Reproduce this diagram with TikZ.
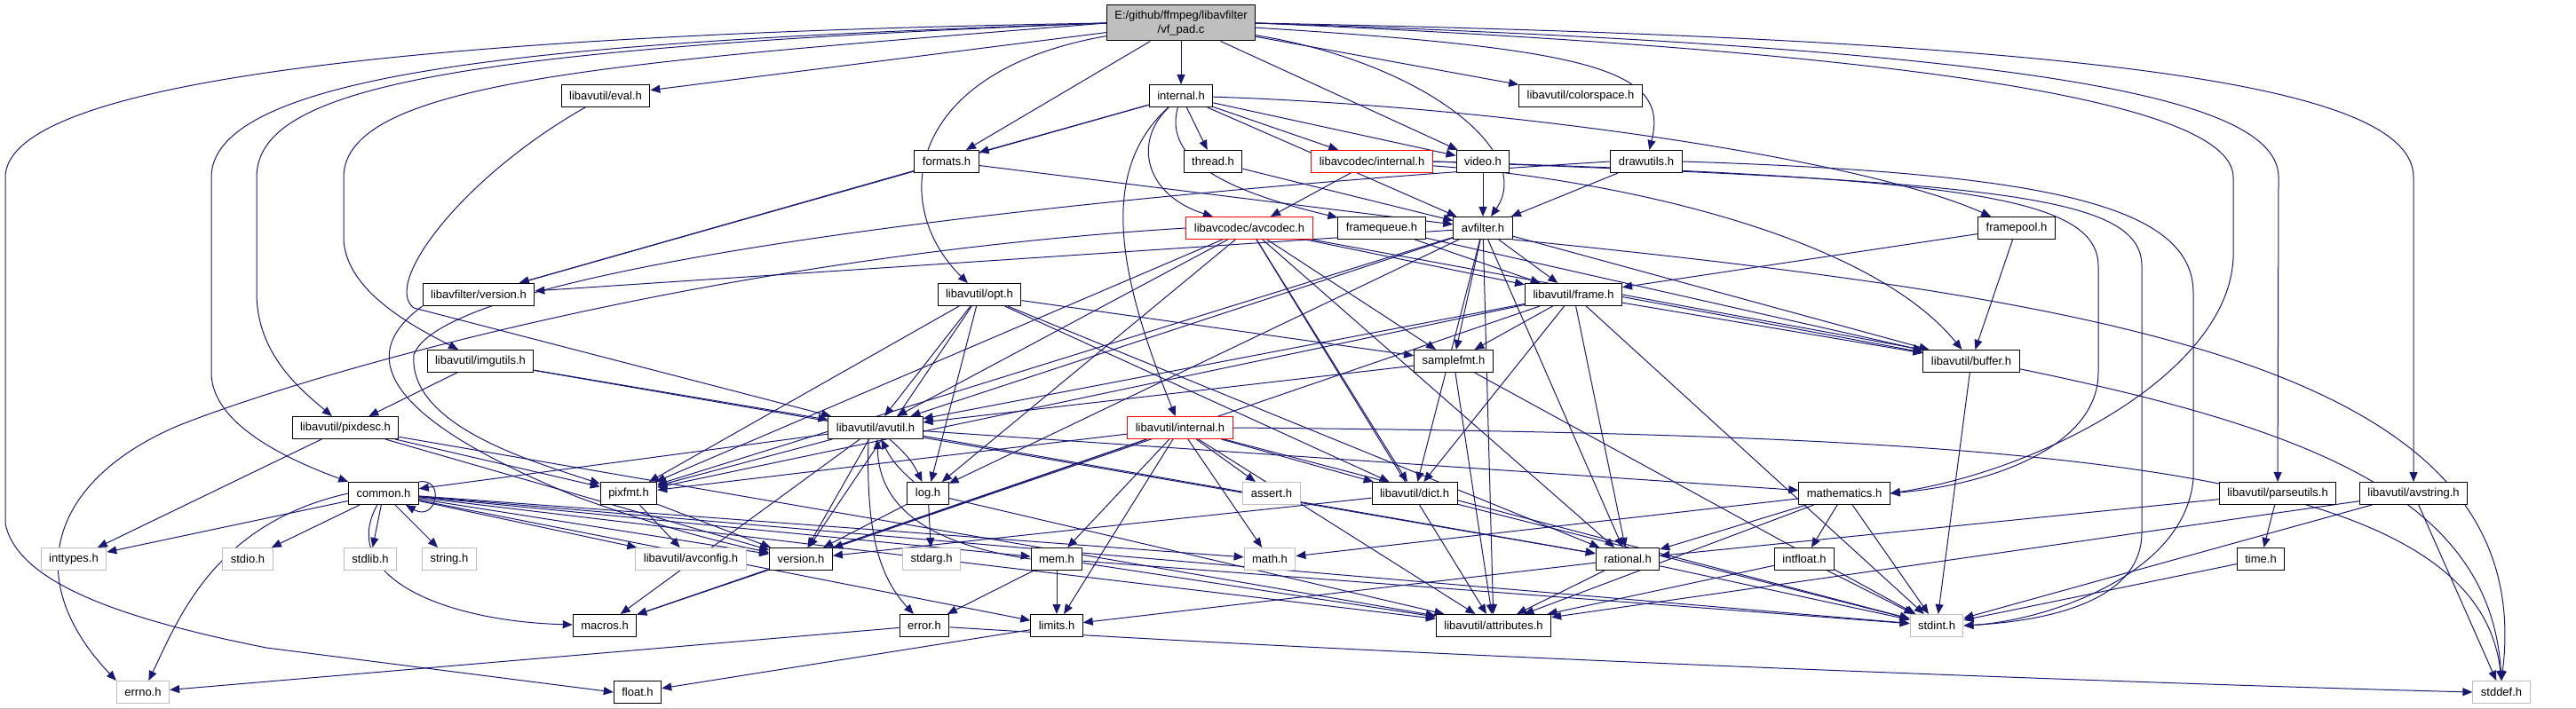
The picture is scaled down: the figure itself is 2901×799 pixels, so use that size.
\documentclass[tikz,border=0pt]{standalone}
\usepackage{fontspec}
\setmainfont{Liberation Sans}
\usepackage{tikz}
\usetikzlibrary{arrows.meta}
\tikzset{every node/.style={font=\fontsize{13}{15}\selectfont}}
\usepackage{xcolor}
\definecolor{midblue}{HTML}{191970}
\definecolor{sysgray}{HTML}{BFBFBF}
\pgfdeclarelayer{wires}
\pgfsetlayers{wires,main}

\begin{document}
\begin{tikzpicture}[x=1pt, y=-1pt,
    hdrbox/.style={draw=black, fill=white, line width=1pt, minimum height=25pt, inner xsep=9pt, inner ysep=0pt},
    sysbox/.style={hdrbox, draw=sysgray},
    cutbox/.style={hdrbox, draw=red},
    rootbox/.style={hdrbox, fill=sysgray, align=center, minimum height=40pt, font=\fontsize{13}{16}\selectfont},
    incl/.style={draw=midblue, line width=1pt, -{Triangle[length=11pt, width=9pt]}}]
  \useasboundingbox (0,0) rectangle (2901,799);
  \draw[sysgray] (0,798) -- (2901,798);

  % rows from the top
  \node[rootbox] (root) at (1330,26) {E:/github/ffmpeg/libavfilter\\/vf\_pad.c};
  \node[hdrbox] (evalh) at (682,108) {libavutil/eval.h};
  \node[hdrbox] (intl) at (1330,108) {internal.h};
  \node[hdrbox] (colorsp) at (1780,108) {libavutil/colorspace.h};
  \node[hdrbox] (formats) at (1066,182) {formats.h};
  \node[hdrbox] (thread) at (1366,182) {thread.h};
  \node[cutbox] (lcintl) at (1545,182) {libavcodec/internal.h};
  \node[hdrbox] (video) at (1670,182) {video.h};
  \node[hdrbox] (drawutils) at (1854,182) {drawutils.h};
  \node[cutbox] (avcodec) at (1407,257) {libavcodec/avcodec.h};
  \node[hdrbox] (frameq) at (1556,257) {framequeue.h};
  \node[hdrbox] (avfilter) at (1670,257) {avfilter.h};
  \node[hdrbox] (framepool) at (2271,257) {framepool.h};
  \node[hdrbox] (lfversion) at (539,332) {libavfilter/version.h};
  \node[hdrbox] (opt) at (1103,332) {libavutil/opt.h};
  \node[hdrbox] (frame) at (1772,332) {libavutil/frame.h};
  \node[hdrbox] (imgutils) at (541,407) {libavutil/imgutils.h};
  \node[hdrbox] (samplefmt) at (1637,407) {samplefmt.h};
  \node[hdrbox] (buffer) at (2220,407) {libavutil/buffer.h};
  \node[hdrbox] (pixdesc) at (389,482) {libavutil/pixdesc.h};
  \node[hdrbox] (avutil) at (986,482) {libavutil/avutil.h};
  \node[cutbox] (luintl) at (1329,482) {libavutil/internal.h};
  \node[hdrbox] (common) at (432,556) {common.h};
  \node[hdrbox] (pixfmt) at (708,556) {pixfmt.h};
  \node[hdrbox] (log) at (1045,556) {log.h};
  \node[sysbox] (assert) at (1432,556) {assert.h};
  \node[hdrbox] (dict) at (1593,556) {libavutil/dict.h};
  \node[hdrbox] (mathem) at (2077,556) {mathematics.h};
  \node[hdrbox] (parseutils) at (2565,556) {libavutil/parseutils.h};
  \node[hdrbox] (avstring) at (2718,556) {libavutil/avstring.h};
  \node[sysbox] (inttypes) at (83,630) {inttypes.h};
  \node[sysbox] (stdio) at (279,630) {stdio.h};
  \node[sysbox] (stdlib) at (417,630) {stdlib.h};
  \node[sysbox] (string) at (506,630) {string.h};
  \node[sysbox] (avconfig) at (778,630) {libavutil/avconfig.h};
  \node[hdrbox] (version) at (902,630) {version.h};
  \node[sysbox] (stdarg) at (1049,630) {stdarg.h};
  \node[hdrbox] (mem) at (1190,630) {mem.h};
  \node[sysbox] (math) at (1430,630) {math.h};
  \node[hdrbox] (rational) at (1833,630) {rational.h};
  \node[hdrbox] (intfloat) at (2032,630) {intfloat.h};
  \node[hdrbox] (time) at (2546,630) {time.h};
  \node[hdrbox] (macros) at (681,705) {macros.h};
  \node[hdrbox] (error) at (1041,705) {error.h};
  \node[hdrbox] (limits) at (1190,705) {limits.h};
  \node[hdrbox] (attrib) at (1682,705) {libavutil/attributes.h};
  \node[sysbox] (stdint) at (2181,705) {stdint.h};
  \node[sysbox] (errno) at (161,780) {errno.h};
  \node[hdrbox] (float) at (718,780) {float.h};
  \node[sysbox] (stddef) at (2817,780) {stddef.h};

  \begin{pgfonlayer}{wires}
    % vf_pad.c
    \foreach \c in {evalh, intl, colorsp, formats, video}
      \draw[incl] (root) -- (\c);
    \draw[incl] (root) .. controls (1020,80) and (1000,230) .. (opt);
    \draw[incl] (root) .. controls (1600,70) and (1730,170) .. (avfilter);
    \draw[incl] (root) .. controls (1800,55) and (1880,80) .. (drawutils);
    \draw[incl] (root.west) .. controls (400,40) and (6,100) .. (6,200) -- (6,590)
      .. controls (20,660) and (150,700) .. (300,730) -- (float.west);
    \draw[incl] (root.west) .. controls (700,45) and (238,70) .. (238,200) -- (238,420)
      .. controls (238,480) and (330,520) .. (common.north west);
    \draw[incl] (root.west) .. controls (500,55) and (289,100) .. (289,200) -- (289,330)
      .. controls (289,400) and (340,440) .. (pixdesc);
    \draw[incl] (root.west) .. controls (700,70) and (387,90) .. (387,200) -- (387,270)
      .. controls (390,330) and (470,370) .. (imgutils);
    \draw[incl] (root.east) .. controls (2200,60) and (2515,120) .. (2515,200) -- (2515,290)
      .. controls (2510,420) and (2300,530) .. (mathem.east);
    \draw[incl] (root.east) .. controls (2300,55) and (2566,110) .. (2566,200) -- (parseutils);
    \draw[incl] (root.east) .. controls (2400,45) and (2718,100) .. (2718,200) -- (avstring);

    % libavfilter headers
    \draw[incl] (evalh) .. controls (520,200) and (430,320) .. (466,347) -- (avutil);
    \foreach \c in {formats, thread, lcintl, video, avfilter, lfversion}
      \draw[incl] (intl) -- (\c);
    \draw[incl] (intl) .. controls (1240,190) and (1255,300) .. (luintl);
    \draw[incl] (intl) .. controls (1275,160) and (1290,220) .. (avcodec);
    \draw[incl] (intl) .. controls (1310,180) and (1380,215) .. (frameq);
    \draw[incl] (intl) .. controls (1700,120) and (2100,180) .. (framepool);
    \foreach \c in {avfilter, lfversion}
      \draw[incl] (formats) -- (\c);
    \draw[incl] (thread) -- (avfilter);
    \draw[incl] (video) -- (avfilter);
    \draw[incl] (drawutils) -- (avfilter);
    \draw[incl] (drawutils.east) .. controls (2300,195) and (2470,230) .. (2470,330) -- (2470,540)
      .. controls (2460,650) and (2300,700) .. (stdint.east);
    \draw[incl] (drawutils.west) .. controls (1200,220) and (500,300) .. (466,400)
      .. controls (460,480) and (600,520) .. (pixfmt);
    \draw[incl] (lcintl) -- (avcodec);
    \draw[incl] (lcintl) .. controls (1800,200) and (2100,260) .. (buffer);
    \draw[incl] (lcintl.east) .. controls (2200,200) and (2363,220) .. (2363,300) -- (2363,420)
      .. controls (2363,500) and (2250,545) .. (mathem.east);
    \draw[incl] (lcintl.east) .. controls (2250,205) and (2412,220) .. (2412,300) -- (2412,600)
      .. controls (2412,680) and (2300,700) .. (stdint.east);
    \draw[incl] (avcodec.west) .. controls (800,290) and (350,420) .. (200,480)
      .. controls (60,540) and (20,650) .. (errno.north west);
    \foreach \c in {samplefmt, attrib, avutil, buffer, dict, frame, log, pixfmt, rational}
      \draw[incl] (avcodec) -- (\c);
    \foreach \c in {buffer, frame}
      \draw[incl] (frameq) -- (\c);
    \foreach \c in {buffer, frame}
      \draw[incl] (framepool) -- (\c);
    \foreach \c in {attrib, avutil, buffer, dict, frame, log, samplefmt, pixfmt, rational, lfversion}
      \draw[incl] (avfilter) -- (\c);
    \draw[incl] (avfilter.south east) .. controls (2400,340) and (2860,420) .. (stddef.north);
    \draw[incl] (lfversion.south west) .. controls (400,400) and (430,470) .. (650,560)
      .. controls (760,600) and (830,615) .. (version);

    % libavutil headers
    \foreach \c in {rational, avutil, dict, log, pixfmt, samplefmt, version}
      \draw[incl] (opt) -- (\c);
    \foreach \c in {stdint, avutil, buffer, dict, rational, samplefmt, pixfmt, version}
      \draw[incl] (frame) -- (\c);
    \draw[incl] (frame.east) .. controls (2400,440) and (2800,480) .. (stddef.north);
    \foreach \c in {avutil, pixdesc, rational}
      \draw[incl] (imgutils) -- (\c);
    \foreach \c in {stdint, avutil, attrib}
      \draw[incl] (samplefmt) -- (\c);
    \draw[incl] (buffer) -- (stdint);
    \foreach \c in {inttypes, attrib, pixfmt, version}
      \draw[incl] (pixdesc) -- (\c);
    \foreach \c in {common, rational, version, macros, mathem, pixfmt}
      \draw[incl] (avutil) -- (\c);
    \draw[incl] ([xshift=-8pt]avutil.south) .. controls (975,600) and (990,650) .. (error);
    \draw[incl] (avutil) to[bend left=12] (log);
    \foreach \c in {assert, math, mem, limits, attrib, stdint, dict, pixfmt, version, macros}
      \draw[incl] (luintl) -- (\c);
    \draw[incl] (luintl.east) .. controls (2300,490) and (2790,520) .. (stddef.north);
    \draw[incl] (common.north east) .. controls +(30,-5) and +(35,20) .. ([xshift=-15pt]common.south east);
    \foreach \c in {inttypes, stdio, stdlib, string, avconfig, version, limits, math, stdint, attrib, mem}
      \draw[incl] (common) -- (\c);
    \draw[incl] (common.west) .. controls (240,590) and (200,700) .. (errno);
    \draw[incl] (common) .. controls (380,650) and (500,700) .. (macros);
    \foreach \c in {avconfig, version}
      \draw[incl] (pixfmt) -- (\c);
    \foreach \c in {stdarg, attrib, version}
      \draw[incl] (log) -- (\c);
    \draw[incl] (log) to[bend left=12] (avutil);
    \foreach \c in {stdint, version}
      \draw[incl] (dict) -- (\c);
    \foreach \c in {stdint, math, attrib, rational, intfloat}
      \draw[incl] (mathem) -- (\c);
    \foreach \c in {time, rational}
      \draw[incl] (parseutils) -- (\c);
    \foreach \c in {stddef, stdint, attrib}
      \draw[incl] (avstring) -- (\c);
    \draw[incl] (version) -- (macros);
    \foreach \c in {limits, stdint, attrib, error}
      \draw[incl] (mem) -- (\c);
    \draw[incl] (mem.west) .. controls (1060,615) and (990,580) .. ([xshift=2pt]avutil.south);
    \foreach \c in {stdint, limits, attrib}
      \draw[incl] (rational) -- (\c);
    \foreach \c in {stdint, attrib}
      \draw[incl] (intfloat) -- (\c);
    \draw[incl] (time) -- (stdint);
    \draw[incl] (error) -- (errno);
    \draw[incl] (error) .. controls (1600,740) and (2400,770) .. (stddef.west);
    \draw[incl] (limits) -- (float);
  \end{pgfonlayer}
\end{tikzpicture}
\end{document}
